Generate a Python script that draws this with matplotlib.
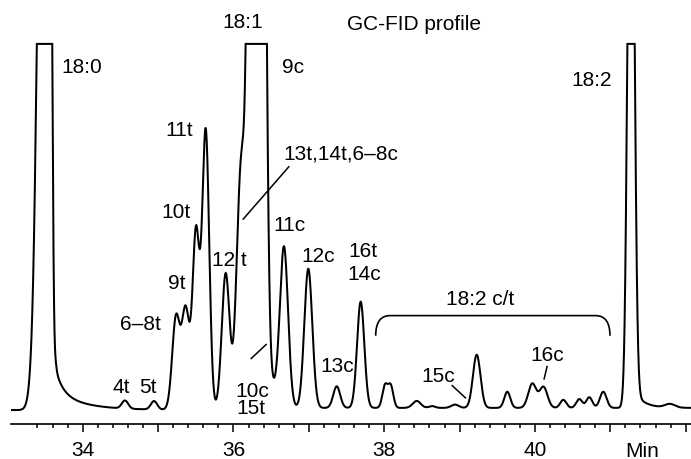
import numpy as np
import matplotlib
matplotlib.use("Agg")
import matplotlib.pyplot as plt
from matplotlib.path import Path
from matplotlib.patches import PathPatch
from matplotlib.transforms import blended_transform_factory

plt.rcParams['font.family'] = ['Liberation Sans', 'DejaVu Sans']

# ---- GC-FID peak table (retention time in min, height in detector units,
#      full scale = 100; left / right peak widths as sigma in min) ----
peak_rt = [33.537, 34.561, 34.946, 35.238, 35.366, 35.503, 35.632, 35.897,
           36.100, 36.310, 36.538, 36.670, 36.993, 37.370, 37.688,
           38.010, 38.086, 38.431, 38.634, 38.939, 39.227, 39.633, 39.964,
           40.113, 40.376, 40.588, 40.721, 40.906,
           41.274, 41.791]
peak_height = [400, 2.2, 2.3, 25, 27, 48, 76, 37,
               64, 800, 4, 44, 38, 5.9, 29,
               6.0, 6.0, 1.9, 0.5, 0.9, 14.5, 4.4, 6.6,
               5.7, 2.2, 2.4, 2.9, 4.4,
               206, 1.0]
peak_sigma_left = [0.0884, 0.042, 0.042, 0.0504, 0.0504, 0.0451, 0.0464, 0.0517,
                   0.0584, 0.0659, 0.053, 0.0544, 0.053, 0.046, 0.048,
                   0.0345, 0.0345, 0.053, 0.04, 0.05, 0.050, 0.04, 0.053,
                   0.053, 0.04, 0.04, 0.04, 0.044,
                   0.0407, 0.066]
peak_sigma_right = [0.0358, 0.042, 0.042, 0.0504, 0.0504, 0.0451, 0.0464, 0.0517,
                    0.0584, 0.0659, 0.053, 0.0544, 0.053, 0.046, 0.048,
                    0.0345, 0.0345, 0.053, 0.04, 0.05, 0.050, 0.04, 0.053,
                    0.053, 0.04, 0.04, 0.04, 0.044,
                    0.0407, 0.066]

# exponential tailing behind the overloaded peaks
tail_start = [33.633, 33.633, 41.33]
tail_amp = [6.85, 4.83, 4.0]
tail_tau = [0.10, 0.38, 0.13]

# baseline drift
baseline_shift = 0.6
baseline_step_rt = 36.0

full_scale = 100.0
run_start, run_end = 33.049, 42.07

# axis ticks
major_ticks = [34, 35, 36, 37, 38, 39, 40, 41, 42]
major_labels = ['34', '', '36', '', '38', '', '40', '', '']
minor_ticks = [round(33.4 + 0.2 * i, 1) for i in range(44)
               if abs((33.4 + 0.2 * i) - round(33.4 + 0.2 * i)) > 1e-6]

# ---- detector trace ----
t = np.linspace(run_start, run_end, 6000)
signal = baseline_shift / (1.0 + np.exp(-(t - baseline_step_rt) / 0.3))
for rt, h, sl, sr in zip(peak_rt, peak_height, peak_sigma_left, peak_sigma_right):
    s = np.where(t < rt, sl, sr)
    signal += h * np.exp(-0.5 * ((t - rt) / s) ** 2)
for t0, a, tau in zip(tail_start, tail_amp, tail_tau):
    onset = 1.0 / (1.0 + np.exp(-(t - t0) / 0.008))
    signal += a * np.exp(-np.clip(t - t0, 0, None) / tau) * onset
signal = np.minimum(signal, full_scale)

fig = plt.figure(figsize=(6.91, 4.60), dpi=100)
ax = fig.add_axes([11 / 691, 35 / 460, 680 / 691, 405 / 460])
ax.plot(t, signal, color='black', lw=1.45, solid_joinstyle='miter')
ax.set_xlim(run_start, run_end)
ax.set_ylim(-3.8, 106.8)

for side in ('top', 'left', 'right'):
    ax.spines[side].set_visible(False)
ax.spines['bottom'].set_linewidth(1.2)
ax.set_yticks([])
ax.set_xticks(major_ticks)
ax.set_xticklabels(major_labels)
ax.set_xticks(minor_ticks, minor=True)
ax.tick_params(axis='x', which='major', direction='out', length=5.8, width=1.1,
               labelsize=15, pad=5.5)
ax.tick_params(axis='x', which='minor', direction='out', length=3.0, width=1.1)

fs = 15
blend = blended_transform_factory(ax.transData, ax.transAxes)
ax.text(41.42, -0.078, 'Min', transform=blend, ha='center', va='baseline', fontsize=fs)

labels = [
    ('18:0', 33.991, 92.4), ('18:1', 36.127, 104.5), ('9c', 36.790, 92.4),
    ('GC-FID profile', 38.395, 104.1), ('11t', 35.284, 75.1),
    ('13t,14t,6–8c', 37.427, 68.8), ('10t', 35.244, 52.6), ('11c', 36.737, 49.2),
    ('12c', 37.126, 40.8), ('16t', 37.718, 42.2), ('14c', 37.732, 35.8),
    ('13c', 37.370, 10.8), ('12 t', 35.941, 39.6), ('9t', 35.247, 33.3),
    ('6–8t', 34.760, 22.1), ('4t', 34.508, 5.0), ('5t', 34.870, 5.0),
    ('10c', 36.246, 3.9), ('15t', 36.233, -0.9), ('18:2 c/t', 39.271, 29.0),
    ('15c', 38.717, 8.0), ('16c', 40.166, 13.8), ('18:2', 40.752, 88.8),
]
for txt, x, y in labels:
    ax.text(x, y, txt, ha='center', va='baseline', fontsize=fs)

# leader lines from labels to peaks
leaders = [
    ((36.741, 66.6), (36.123, 52.0)),
    ((36.229, 13.95), (36.441, 18.05)),
    ((38.895, 6.83), (39.085, 3.2)),
    ((40.163, 12.1), (40.119, 8.3)),
]
for (x0, y0), (x1, y1) in leaders:
    ax.plot([x0, x1], [y0, y1], color='black', lw=1.1, solid_capstyle='butt')

# bracket over the 18:2 c/t isomers
bx0, bx1, bc, by0, by1 = 37.887, 40.995, 0.19, 20.3, 25.8
verts = [(bx0, by0), (bx0, by1), (bx0 + bc, by1), (bx1 - bc, by1),
         (bx1, by1), (bx1, by0)]
codes = [Path.MOVETO, Path.CURVE3, Path.CURVE3, Path.LINETO, Path.CURVE3, Path.CURVE3]
ax.add_patch(PathPatch(Path(verts, codes), fill=False, lw=1.2, edgecolor='black'))

fig.savefig('out.png', dpi=100)
